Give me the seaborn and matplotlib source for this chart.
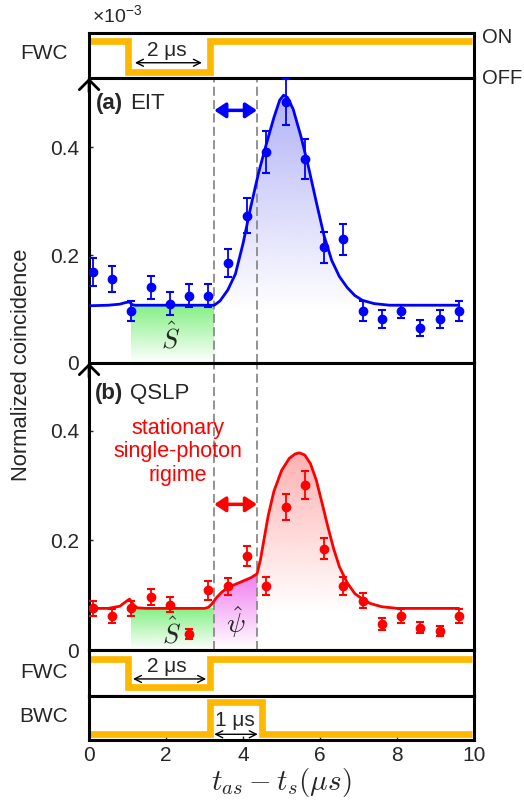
import numpy as np
import matplotlib
matplotlib.use("Agg")
import matplotlib.pyplot as plt
import matplotlib.colors as mcolors
import seaborn as sns

# measured points (time in us, normalized coincidence in 1e-3)
t_pts = [0.1, 0.6, 1.1, 1.6, 2.1, 2.6, 3.1, 3.6, 4.1, 4.6,
         5.1, 5.6, 6.1, 6.6, 7.1, 7.6, 8.1, 8.6, 9.1, 9.6]

eit_vals = [0.169, 0.155, 0.096, 0.140, 0.110, 0.125, 0.125, 0.185, 0.273, 0.391,
            0.483, 0.377, 0.214, 0.229, 0.096, 0.081, 0.096, 0.065, 0.081, 0.096]
eit_err = [0.026, 0.024, 0.019, 0.022, 0.021, 0.022, 0.022, 0.026, 0.032, 0.039,
           0.043, 0.037, 0.029, 0.029, 0.019, 0.017, 0.012, 0.015, 0.017, 0.019]

qslp_vals = [0.076, 0.062, 0.076, 0.097, 0.083, 0.029, 0.109, 0.116, 0.171, 0.117,
             0.261, 0.301, 0.185, 0.117, 0.090, 0.048, 0.062, 0.041, 0.035, 0.062]
qslp_err = [0.014, 0.012, 0.014, 0.014, 0.013, 0.009, 0.017, 0.015, 0.018, 0.017,
            0.023, 0.025, 0.019, 0.017, 0.014, 0.011, 0.012, 0.010, 0.009, 0.013]

# fitted curves
eit_fit_t = [0.0, 0.5, 0.8, 0.95, 1.05, 1.12, 1.2, 2.0, 3.0, 3.25, 3.4, 3.6, 3.8,
             4.0, 4.2, 4.4, 4.6, 4.8, 4.95, 5.05, 5.15, 5.3, 5.5, 5.7, 5.9, 6.1,
             6.3, 6.5, 6.7, 6.9, 7.1, 7.4, 7.8, 9.0, 9.6]
eit_fit = [0.106, 0.107, 0.109, 0.112, 0.113, 0.108, 0.107, 0.107, 0.107, 0.107,
           0.115, 0.135, 0.165, 0.222, 0.290, 0.352, 0.405, 0.455, 0.487, 0.496,
           0.492, 0.470, 0.420, 0.362, 0.298, 0.236, 0.190, 0.160, 0.140, 0.125,
           0.116, 0.110, 0.107, 0.107, 0.107]

qslp_fit_t = [0.0, 0.5, 0.8, 0.95, 1.05, 1.15, 1.25, 1.5, 3.0, 3.1, 3.2, 3.3, 3.45,
              3.6, 3.8, 4.0, 4.2, 4.36, 4.45, 4.55, 4.65, 4.8, 5.0, 5.2, 5.35, 5.46,
              5.6, 5.75, 5.9, 6.05, 6.2, 6.35, 6.5, 6.7, 6.9, 7.1, 7.3, 7.6, 8.0,
              9.0, 9.6]
qslp_fit = [0.076, 0.076, 0.080, 0.088, 0.093, 0.083, 0.077, 0.076, 0.076, 0.078,
            0.085, 0.095, 0.106, 0.114, 0.120, 0.126, 0.132, 0.139, 0.165, 0.205,
            0.245, 0.290, 0.328, 0.350, 0.358, 0.360, 0.356, 0.340, 0.310, 0.268,
            0.225, 0.185, 0.152, 0.123, 0.103, 0.093, 0.085, 0.079, 0.076, 0.076,
            0.076]

# control pulses (on = 1, off = 0)
fwc_t = [0.0, 1.0, 3.15, 9.95]
fwc_level = [1, 0, 1, 1]
bwc_t = [0.0, 3.15, 4.48, 9.95]
bwc_level = [0, 1, 0, 0]

window = [3.25, 4.36]
yticks = [0, 0.2, 0.4]
yticklabels = ["0", "0.2", "0.4"]
xticks = [0, 2, 4, 6, 8, 10]

sns.set_theme(style="white")
plt.rcParams["font.family"] = ["Liberation Sans", "DejaVu Sans"]
plt.rcParams["axes.linewidth"] = 2.2
plt.rcParams["axes.edgecolor"] = "black"

BLUE = "#0000ff"
RED = "#ff0000"
GOLD = "#ffb800"


def gradient_fill(ax, x, y, x0, x1, y0, y1, color):
    poly = ax.fill_between(x, 0, y, facecolor="none", edgecolor="none")
    img = np.ones((100, 1, 4))
    img[:, :, :3] = mcolors.to_rgb(color)
    img[:, 0, 3] = np.linspace(0, 1, 100)
    im = ax.imshow(img, extent=[x0, x1, y0, y1], origin="lower",
                   aspect="auto", zorder=1, interpolation="bilinear")
    im.set_clip_path(poly.get_paths()[0], transform=ax.transData)


def pulse_axis(ax, t, level, ylim):
    ax.plot(t, level, drawstyle="steps-post", color=GOLD, lw=4.8,
            solid_joinstyle="miter", solid_capstyle="butt")
    ax.set_xlim(0, 10)
    ax.set_ylim(*ylim)
    ax.set_yticks([])
    ax.set_xticks([])


def span_arrow(ax, x0, x1, y, text, tx, ty):
    tr = ax.get_xaxis_transform()
    ax.annotate("", xy=(x0, y), xytext=(x1, y), xycoords=tr, textcoords=tr,
                arrowprops=dict(arrowstyle="<->,head_length=0.5,head_width=0.25",
                                lw=1.0, color="black", shrinkA=0, shrinkB=0,
                                mutation_scale=10))
    ax.text(tx, ty, text, transform=tr, ha="center", va="center", fontsize=15)


def data_axis(ax, vals, err, fit_t, fit, color, ylim):
    sns.lineplot(x=fit_t, y=fit, ax=ax, color=color, lw=2.0, zorder=3,
                 estimator=None, sort=False)
    ax.errorbar(t_pts, vals, yerr=err, fmt="o", color=color, ms=6,
                elinewidth=1.3, capsize=2.8, capthick=1.5, zorder=4)
    for x in window:
        ax.axvline(x, color="#8a8a8a", lw=1.3, dashes=(5, 2.4), zorder=2)
    ax.set_xlim(0, 10)
    ax.set_ylim(*ylim)
    ax.set_xticks([])
    ax.set_yticks(yticks, yticklabels)
    ax.tick_params(axis="y", direction="in", length=3, width=1, pad=7,
                   labelsize=15, left=True)
    ax.annotate("", xy=(0, 1.0), xycoords="axes fraction",
                xytext=(0, 0.95), textcoords="axes fraction",
                arrowprops=dict(arrowstyle="->,head_length=0.5,head_width=0.5",
                                lw=2.0, color="black", shrinkA=0, shrinkB=0,
                                mutation_scale=14),
                annotation_clip=False)


fig = plt.figure(figsize=(5.24, 8.02), dpi=100)
L, W = 0.170, 0.735
ax_fwc1 = fig.add_axes([L, 0.9027, W, 0.0561])
ax_a = fig.add_axes([L, 0.5474, W, 0.3554])
ax_b = fig.add_axes([L, 0.1895, W, 0.3579])
ax_fwc2 = fig.add_axes([L, 0.1322, W, 0.0574])
ax_bwc = fig.add_axes([L, 0.0773, W, 0.0549])

# top FWC
pulse_axis(ax_fwc1, fwc_t, fwc_level, (-0.206, 1.265))
span_arrow(ax_fwc1, 1.19, 2.93, 0.34, "2 μs", 2.03, 0.62)
ax_fwc1.text(-0.055, 0.55, "FWC", transform=ax_fwc1.transAxes, ha="right",
             va="center", fontsize=15)
ax_fwc1.text(1.021, 0.89, "ON", transform=ax_fwc1.transAxes, ha="left",
             va="center", fontsize=14.5)
ax_fwc1.text(1.021, 0.0, "OFF", transform=ax_fwc1.transAxes, ha="left",
             va="center", fontsize=14.5)
ax_fwc1.text(0.008, 1.4, r"$\mathregular{×10^{-3}}$", transform=ax_fwc1.transAxes,
             ha="left", va="center", fontsize=14)

# (a) EIT
data_axis(ax_a, eit_vals, eit_err, eit_fit_t, eit_fit, BLUE, (0, 0.528))
gradient_fill(ax_a, eit_fit_t, eit_fit, window[0], 7.6, 0.095, 0.5, "#b2b2f8")
gradient_fill(ax_a, eit_fit_t, eit_fit, 1.1, window[0], 0.0, 0.107, "#84f084")
ax_a.annotate("", xy=(window[0], 0.468), xytext=(window[1], 0.468),
              arrowprops=dict(arrowstyle="<|-|>,head_length=0.45,head_width=0.3",
                              lw=2.5, color=BLUE, shrinkA=0, shrinkB=0,
                              mutation_scale=15))
ax_a.text(2.12, 0.046, r"$\hat{S}$", ha="center", va="center", fontsize=19,
          math_fontfamily="cm")
t1 = ax_a.text(0.018, 0.911, "(a)", transform=ax_a.transAxes, fontsize=16,
               fontweight="bold", va="center")
ax_a.annotate("EIT", xy=(1, 0.5), xycoords=t1, xytext=(5, 0),
              textcoords="offset points", va="center", fontsize=16)

# (b) QSLP
data_axis(ax_b, qslp_vals, qslp_err, qslp_fit_t, qslp_fit, RED, (0, 0.524))
gradient_fill(ax_b, qslp_fit_t, qslp_fit, 1.1, window[0], 0.0, 0.076, "#84f084")
gradient_fill(ax_b, qslp_fit_t, qslp_fit, window[0], window[1], 0.0, 0.14, "#f07cf0")
gradient_fill(ax_b, qslp_fit_t, qslp_fit, window[1], 7.6, 0.07, 0.36, "#ffb2b2")
ax_b.annotate("", xy=(window[0], 0.266), xytext=(window[1], 0.266),
              arrowprops=dict(arrowstyle="<|-|>,head_length=0.45,head_width=0.3",
                              lw=2.5, color=RED, shrinkA=0, shrinkB=0,
                              mutation_scale=15))
ax_b.text(2.15, 0.032, r"$\hat{S}$", ha="center", va="center", fontsize=19,
          math_fontfamily="cm")
ax_b.text(3.8, 0.052, r"$\hat{\psi}$", ha="center", va="center", fontsize=20,
          math_fontfamily="cm")
ax_b.text(2.31, 0.362, "stationary\nsingle-photon\nrigime", ha="center",
          va="center", fontsize=15.5, color=RED, linespacing=1.15)
t2 = ax_b.text(0.016, 0.894, "(b)", transform=ax_b.transAxes, fontsize=16,
               fontweight="bold", va="center")
ax_b.annotate("QSLP", xy=(1, 0.5), xycoords=t2, xytext=(5, 0),
              textcoords="offset points", va="center", fontsize=16)

# bottom FWC / BWC
pulse_axis(ax_fwc2, fwc_t, fwc_level, (-0.333, 1.333))
span_arrow(ax_fwc2, 1.14, 3.04, 0.37, "2 μs", 2.03, 0.65)
ax_fwc2.text(-0.055, 0.5, "FWC", transform=ax_fwc2.transAxes, ha="right",
             va="center", fontsize=15)

pulse_axis(ax_bwc, bwc_t, bwc_level, (-0.178, 1.192))
span_arrow(ax_bwc, 3.25, 4.38, 0.13, "1 μs", 3.79, 0.45)
ax_bwc.text(-0.055, 0.545, "BWC", transform=ax_bwc.transAxes, ha="right",
            va="center", fontsize=15)
ax_bwc.set_xticks(xticks)
ax_bwc.tick_params(axis="x", direction="in", length=3, width=1, pad=4,
                   labelsize=15, bottom=True)
ax_bwc.set_xlabel(r"$t_{as}-t_s(\mu s)$", fontsize=21, math_fontfamily="cm",
                  labelpad=1)

fig.text(22 / 524, 1 - 365 / 802, "Normalized coincidence", rotation=90,
         ha="center", va="center", fontsize=15.8)

fig.savefig("out.png", dpi=100)
